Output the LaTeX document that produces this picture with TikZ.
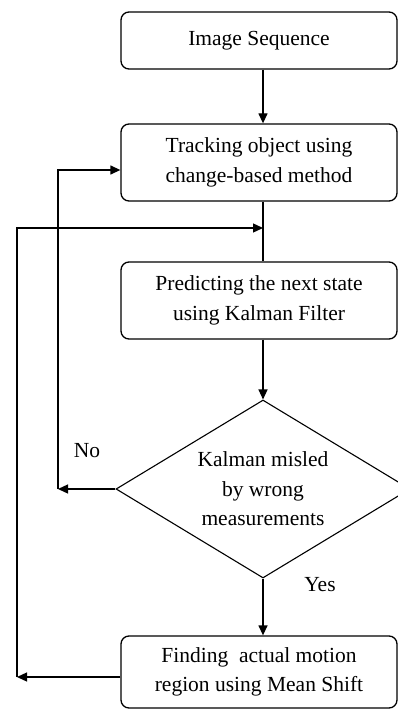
\documentclass[tikz,border=0pt]{standalone}
\usepackage{fontspec}
\setmainfont{Liberation Serif}
\usetikzlibrary{arrows.meta,shapes.geometric}
\begin{document}
\begin{tikzpicture}[x=1pt,y=-1pt,
  txt/.style={font=\fontsize{21.5}{29.5}\selectfont},
  box/.style={txt,draw,rounded corners=8pt,line width=1.3pt,minimum width=276pt,inner sep=0pt,align=center},
  dec/.style={txt,draw,diamond,aspect=1.65,line width=1.1pt,minimum width=294pt,minimum height=178pt,inner sep=0pt,align=center},
  arr/.style={-{Triangle[length=10pt,width=9pt]},line width=1.3pt},
  lin/.style={line width=1.3pt}]
\useasboundingbox (0,0) rectangle (398,711);
\clip (0,0) rectangle (398,711);
\node[box,minimum height=57pt] (s1) at (259,40.5) {Image Sequence};
\node[box,minimum height=77pt] (s2) at (259,162.5) {Tracking object using\\change-based method};
\node[box,minimum height=77pt] (s3) at (259,300.5) {Predicting the next state\\using Kalman Filter};
\node[dec] (d) at (263,489) {Kalman misled\\by wrong\\measurements};
\node[box,minimum height=72pt] (s5) at (259,672) {Finding\ \ actual motion\\region using Mean Shift};
\node[txt] (no) at (87,451) {No};
\node[txt] (yes) at (320,585) {Yes};
\coordinate (cJoin) at (263,228);
\coordinate (cOuter) at (17,677);
\coordinate (cOuterTop) at (17,228);
\coordinate (cNo) at (58,489);
\coordinate (cNoTop) at (58,170);
\draw[arr] (s1.south -| d.north) -- (s2.north -| d.north);
\draw[lin] (s2.south -| d.north) -- (s3.north -| d.north);
\draw[arr] (s3.south -| d.north) -- (d.north);
\draw[arr] (d.south) -- (s5.north -| d.south);
\draw[arr] (s5.west |- cOuter) -- (cOuter);
\draw[arr] (cOuter) -- (cOuterTop) -- (cJoin);
\draw[arr] (d.west) -- (cNo);
\draw[arr] (cNo) -- (cNoTop) -- (s2.west |- cNoTop);
\end{tikzpicture}
\end{document}
